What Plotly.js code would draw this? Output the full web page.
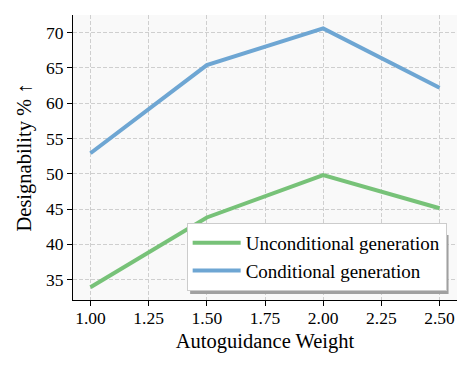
<!DOCTYPE html>
<html><head><meta charset="utf-8">
<script src="https://cdn.plot.ly/plotly-3.0.1.min.js"></script>
<style>html,body{margin:0;padding:0;background:#fff}</style>
</head><body><div id="chart" style="width:473px;height:368px"></div>
<script>
const weights = [1.00, 1.50, 2.00, 2.50];
const unconditional = [33.9, 43.8, 49.8, 45.1];
const conditional = [52.9, 65.4, 70.6, 62.2];
const tickVals = [1.00, 1.25, 1.50, 1.75, 2.00, 2.25, 2.50];
const tickText = ["1.00", "1.25", "1.50", "1.75", "2.00", "2.25", "2.50"];
const yTickVals = [35, 40, 45, 50, 55, 60, 65, 70];
const seriesNames = ["Unconditional generation", "Conditional generation"];

const font = "Liberation Serif";
const data = [
  {x: weights, y: unconditional, mode: "lines", name: seriesNames[0],
   line: {color: "#77c278", width: 4}},
  {x: weights, y: conditional, mode: "lines", name: seriesNames[1],
   line: {color: "#6ea6d3", width: 4}}
];
const layout = {
  width: 473, height: 368,
  margin: {l: 73, r: 16, t: 15, b: 68},
  paper_bgcolor: "#ffffff", plot_bgcolor: "#f9f9f9",
  font: {family: font, size: 17.5, color: "#000"},
  showlegend: true,
  legend: {x: 0.296, y: 0.032, xanchor: "left", yanchor: "bottom",
    bgcolor: "#ffffff", bordercolor: "#cccccc", borderwidth: 1,
    itemwidth: 48,
    font: {family: font, size: 19, color: "#000"}, tracegroupgap: 0},
  shapes: [{type: "rect", xref: "paper", yref: "paper",
    x0: 0.305, x1: 0.978, y0: 0.021, y1: 0.228,
    fillcolor: "#a0a0a0", line: {width: 0}, layer: "above"}],
  xaxis: {range: [0.925, 2.575], tickvals: tickVals, ticktext: tickText,
    showgrid: true, gridcolor: "#cfcfcf", griddash: "4px,2px", gridwidth: 1,
    zeroline: false, showline: true, linecolor: "#000", linewidth: 1.2,
    ticks: "outside", ticklen: 5, tickcolor: "#000", ticklabelstandoff: -3,
    tickfont: {family: font, size: 17.5},
    title: {text: "Autoguidance Weight", font: {family: font, size: 20.5}, standoff: 6}},
  yaxis: {range: [32.1, 72.5], tickvals: yTickVals,
    showgrid: true, gridcolor: "#cfcfcf", griddash: "4px,2px", gridwidth: 1,
    zeroline: false, showline: true, linecolor: "#000", linewidth: 1.2,
    ticks: "outside", ticklen: 5, tickcolor: "#000",
    tickfont: {family: font, size: 17.5},
    title: {text: "Designability % ↑", font: {family: font, size: 20.5}, standoff: 8}}
};
Plotly.newPlot("chart", data, layout, {displayModeBar: false});
</script></body></html>
